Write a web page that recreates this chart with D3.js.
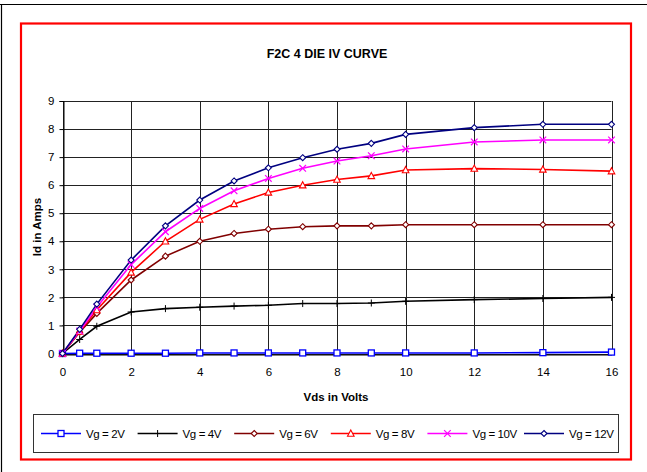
<!DOCTYPE html>
<html>
<head>
<meta charset="utf-8">
<script src="https://cdn.jsdelivr.net/npm/d3@7"></script>
<style>
  body { margin: 0; background: #fff; }
  text { font-family: "Liberation Sans", Arial, sans-serif; }
</style>
</head>
<body>
<div id="chart_div"></div>
<script>
// 数据
const vds = [0, 0.5, 1, 2, 3, 4, 5, 6, 7, 8, 9, 10, 12, 14, 16]
const vg2 = [0, 0.01, 0.01, 0.01, 0.01, 0.02, 0.02, 0.02, 0.02, 0.02, 0.02, 0.02, 0.02, 0.03, 0.05]
const vg4 = [0, 0.5, 0.97, 1.48, 1.6, 1.65, 1.69, 1.72, 1.78, 1.78, 1.8, 1.86, 1.92, 1.96, 2.0]
const vg6 = [0, 0.76, 1.43, 2.62, 3.47, 4.0, 4.28, 4.43, 4.52, 4.55, 4.55, 4.59, 4.59, 4.59, 4.59]
const vg8 = [0, 0.78, 1.55, 2.89, 4.0, 4.78, 5.33, 5.74, 6.0, 6.2, 6.33, 6.54, 6.59, 6.56, 6.5]
const vg10 = [0, 0.8, 1.65, 3.17, 4.34, 5.17, 5.8, 6.24, 6.6, 6.86, 7.05, 7.29, 7.54, 7.61, 7.61]
const vg12 = [0, 0.86, 1.76, 3.33, 4.55, 5.47, 6.15, 6.62, 6.98, 7.28, 7.49, 7.81, 8.05, 8.17, 8.17]
const seriesNames = ["Vg = 2V", "Vg = 4V", "Vg = 6V", "Vg = 8V", "Vg = 10V", "Vg = 12V"]
const xTicks = [0, 2, 4, 6, 8, 10, 12, 14, 16]
const yTicks = [0, 1, 2, 3, 4, 5, 6, 7, 8, 9]

const series = [vg2, vg4, vg6, vg8, vg10, vg12]
const colors = ["#0000ff", "#000000", "#800000", "#ff0000", "#ff00ff", "#000080"]
const markers = ["square", "plus", "diamond", "triangle", "cross", "diamond"]

const width = 647, height = 472
const svg = d3.select('#chart_div').append('svg')
    .attr('width', width)
    .attr('height', height)

// 外框
svg.append('line').attr('x1', 0).attr('x2', width).attr('y1', 4.5).attr('y2', 4.5)
    .attr('stroke', '#000').attr('stroke-width', 1.2)
svg.append('line').attr('x1', 1.5).attr('x2', 1.5).attr('y1', 4).attr('y2', height)
    .attr('stroke', '#000').attr('stroke-width', 1.2)
svg.append('rect').attr('x', 21).attr('y', 23.5).attr('width', 610).attr('height', 436)
    .attr('fill', 'none').attr('stroke', '#ff0000').attr('stroke-width', 2.2)

const x = d3.scaleLinear().domain([0, 16]).range([62.5, 611.5])
const y = d3.scaleLinear().domain([0, 9]).range([353.5, 101])

// 标题
svg.append('text').attr('x', 327).attr('y', 58).attr('text-anchor', 'middle')
    .attr('font-size', 12.5).attr('font-weight', 'bold').text('F2C 4 DIE IV CURVE')

// 网格
const grid = svg.append('g')
grid.selectAll('.hg').data(yTicks).enter().append('line')
    .attr('x1', x(0)).attr('x2', x(16))
    .attr('y1', d => Math.round(y(d)) + 0.5).attr('y2', d => Math.round(y(d)) + 0.5)
    .attr('stroke', '#222').attr('stroke-width', 1)
grid.selectAll('.vg').data(xTicks).enter().append('line')
    .attr('x1', d => Math.round(x(d)) + 0.5).attr('x2', d => Math.round(x(d)) + 0.5)
    .attr('y1', y(9)).attr('y2', y(0))
    .attr('stroke', '#222').attr('stroke-width', 1)

// 坐标轴
const yAxis = svg.append('g')
    .attr('transform', `translate(${Math.round(x(0)) + 0.5},0)`)
    .call(d3.axisLeft(y).tickValues(yTicks).tickSize(4).tickPadding(5).tickFormat(d3.format('d')))
const xAxis = svg.append('g')
    .attr('transform', `translate(0,${Math.round(y(0)) + 0.5})`)
    .call(d3.axisBottom(x).tickValues(xTicks).tickSize(0).tickPadding(13).tickFormat(d3.format('d')))
;[yAxis, xAxis].forEach(a => {
    a.select('.domain').attr('stroke', '#000')
    a.selectAll('text').attr('font-size', 11.5).attr('fill', '#000')
        .style('font-family', '"Liberation Sans", Arial, sans-serif')
})

svg.append('text').attr('x', 336).attr('y', 401).attr('text-anchor', 'middle')
    .attr('font-size', 11.5).attr('font-weight', 'bold').text('Vds in Volts')
svg.append('text').attr('transform', 'translate(41,227) rotate(-90)').attr('text-anchor', 'middle')
    .attr('font-size', 11.5).attr('font-weight', 'bold').text('Id in Amps')

// 标记
function drawMarker(g, type, cx, cy, color) {
    if (type === 'square') {
        g.append('rect').attr('x', cx - 3).attr('y', cy - 3).attr('width', 6).attr('height', 6)
            .attr('fill', '#fff').attr('stroke', color).attr('stroke-width', 1.3)
    } else if (type === 'plus') {
        g.append('path').attr('d', `M${cx - 3.5},${cy}H${cx + 3.5}M${cx},${cy - 3.5}V${cy + 3.5}`)
            .attr('stroke', color).attr('stroke-width', 1).attr('fill', 'none')
    } else if (type === 'diamond') {
        g.append('path').attr('d', `M${cx},${cy - 3}L${cx + 3},${cy}L${cx},${cy + 3}L${cx - 3},${cy}Z`)
            .attr('fill', '#fff').attr('stroke', color).attr('stroke-width', 1.1)
    } else if (type === 'triangle') {
        g.append('path').attr('d', `M${cx},${cy - 3.5}L${cx + 3.3},${cy + 2.7}L${cx - 3.3},${cy + 2.7}Z`)
            .attr('fill', '#fff').attr('stroke', color).attr('stroke-width', 1.1)
    } else if (type === 'cross') {
        g.append('path').attr('d', `M${cx - 3.3},${cy - 3.3}L${cx + 3.3},${cy + 3.3}M${cx + 3.3},${cy - 3.3}L${cx - 3.3},${cy + 3.3}`)
            .attr('stroke', color).attr('stroke-width', 1.2).attr('fill', 'none')
    }
}

const line = d3.line().x(d => x(d[0])).y(d => y(d[1]))
const plot = svg.append('g')
series.forEach((vals, i) => {
    const pts = vds.map((v, j) => [v, vals[j]])
    plot.append('path').datum(pts).attr('d', line)
        .attr('fill', 'none').attr('stroke', colors[i]).attr('stroke-width', 1.6)
})
series.forEach((vals, i) => {
    const mg = plot.append('g')
    vds.forEach((v, j) => drawMarker(mg, markers[i], x(v), y(vals[j]), colors[i]))
})

// 图例
svg.append('rect').attr('x', 33.5).attr('y', 414.5).attr('width', 585).attr('height', 38)
    .attr('fill', 'none').attr('stroke', '#333').attr('stroke-width', 1)
const legend = svg.append('g')
seriesNames.forEach((name, i) => {
    const lx = 41 + i * 96.6, ly = 433.5
    legend.append('line').attr('x1', lx).attr('x2', lx + 40).attr('y1', ly).attr('y2', ly)
        .attr('stroke', colors[i]).attr('stroke-width', 1.6)
    drawMarker(legend, markers[i], lx + 20, ly, colors[i])
    legend.append('text').attr('x', lx + 45).attr('y', ly + 4).attr('font-size', 11.5)
        .attr('letter-spacing', -0.4).text(name)
})
</script>
</body>
</html>
